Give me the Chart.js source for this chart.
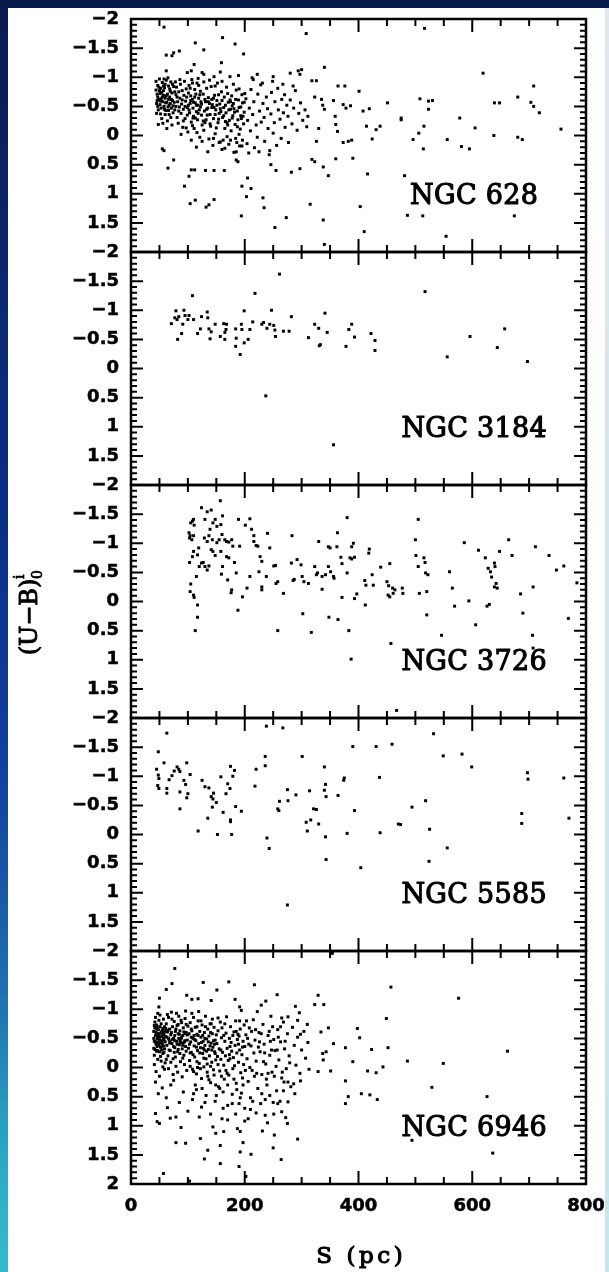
<!DOCTYPE html>
<html>
<head>
<meta charset="utf-8">
<script src="https://cdn.jsdelivr.net/npm/chart.js@4/dist/chart.umd.min.js"></script>
<style>
body { margin: 0; background: #fff; }
#page { position: relative; width: 609px; height: 1272px; background: #fff; overflow: hidden; }
#leftband { position: absolute; left: 0; top: 0; width: 8px; height: 1272px;
    background: linear-gradient(#0a1c50, #0b2e86 40%, #103f9c 60%, #1d70b0 78%, #2aa6c3 90%, #34bccb); }
#topband { position: absolute; left: 0; top: 0; width: 609px; height: 8px; background: #031a4b; }
#rightband { position: absolute; right: 0; top: 8px; width: 4px; height: 1264px;
    background: linear-gradient(#dfe7ef, #c4e7ee); }
canvas { position: absolute; left: 0; }
</style>
</head>
<body>
<div id="page">
  <div id="leftband"></div>
  <div id="topband"></div>
  <div id="rightband"></div>
</div>
<script>
var galaxies = ['NGC 628', 'NGC 3184', 'NGC 3726', 'NGC 5585', 'NGC 6946'];
var xTitle = 'S (pc)';

// S (pc), (U-B)0 pairs
var ngc628 = [
    [58,-1.86],[161,-1.68],[183,-1.57],[113,-1.59],[128,-1.47],[308,-1.75],[516,-1.84],
    [62,-1.38],[72,-1.37],[75,-1.42],[85,-1.45],[198,-1.40],[159,-1.25],[111,-1.22],
    [62,-1.11],[99,-1.08],[106,-1.11],[125,-1.08],[128,-1.05],[146,-1.01],[157,-1.09],[174,-1.01],[189,-1.03],[215,-0.96],[222,-1.05],[250,-1.01],[280,-1.07],[294,-1.11],[297,-1.05],[300,-1.13],
    [340,-1.17],[619,-1.07],[318,-0.94],[326,-0.94],[364,-0.85],[376,-0.85],[401,-0.76],[708,-0.85],
    [680,-0.66],[703,-0.57],[708,-0.50],[718,-0.39],[639,-0.56],[648,-0.56],
    [523,-0.59],[530,-0.60],[508,-0.63],[523,-0.45],[451,-0.56],[475,-0.27],[475,-0.30],[578,-0.30],
    [756,-0.11],[605,-0.13],[515,-0.16],[506,-0.04],[496,0.07],[556,0.07],[581,0.19],[595,0.23],[514,0.23],[638,0.00],[680,0.03],[688,0.07],
    [414,-0.16],[424,0.06],[431,-0.10],[438,-0.16],[408,-0.42],[419,-0.46],[373,-0.53],[378,-0.47],[386,-0.51],[373,0.12],[382,0.10],[388,0.08],
    [359,-0.33],[360,-0.19],[363,-0.07],[335,-0.62],[337,-0.52],[340,-0.45],[323,-0.66],[356,-0.60],[311,-0.33],[326,0.10],[330,-0.12],
    [390,0.39],[360,0.40],[416,0.66],[481,0.69],[338,0.54],[347,0.69],[318,0.41],[323,0.45],[297,0.57],[282,0.63],
    [403,1.22],[486,1.37],[513,1.38],[674,1.38],[410,1.65],[554,1.73],[338,1.45],[340,1.87],[273,1.41],[253,1.58],[194,1.38],[315,1.18],[232,1.07],[234,1.24],
    [195,0.87],[203,1.05],[211,0.91],[205,0.73],[104,1.17],[113,1.11],[132,1.23],[137,1.19],[146,1.10],[94,0.87],[102,0.70],[65,0.56],[106,0.59],[112,0.59],[131,0.60],[146,0.60],[164,0.60],[185,0.42],[188,0.45],[246,0.50],[255,0.60],[75,0.42],[55,0.23],[58,0.26],
    [44,-0.93],[46,-0.71],[45,-0.55],[47,-0.86],[49,-0.62],[48,-0.44],[44,-0.78],[50,-0.97],[51,-0.53],[52,-0.81],[47,-0.66],[53,-0.47],[45,-0.38],[54,-0.74],[55,-0.91],[49,-0.83],[56,-0.58],[57,-0.69],[52,-0.37],[58,-0.50],
    [46,-0.60],[59,-0.82],[60,-0.64],[51,-0.72],[61,-0.43],[62,-0.95],[54,-0.29],[63,-0.57],[57,-0.77],[64,-0.71],[65,-0.49],[60,-0.88],[66,-0.62],[67,-0.36],[59,-0.45],[68,-0.80],[69,-0.55],[62,-0.68],[70,-0.92],[71,-0.47],
    [64,-0.25],[72,-0.73],[66,-0.85],[73,-0.60],[74,-0.39],[68,-0.66],[75,-0.84],[70,-0.31],[56,-0.21],[63,-0.12],[48,-0.19],[72,-0.18],[53,-0.63],[61,-0.56],[67,-0.52],[58,-0.97],[65,-0.99],[50,-0.77],[55,-0.66],[69,-0.76],
    [74,-0.51],[47,-0.50],[71,-0.62],[60,-0.36],[66,-0.43],[57,-0.85],[52,-0.59],[73,-0.88],
    [76,-0.57],[78,-0.92],[77,-0.44],[79,-0.70],[81,-0.31],[80,-0.83],[82,-0.58],[84,-0.75],[83,-0.21],[85,-0.49],[87,-0.88],[86,-0.64],[88,-0.38],[90,-0.77],[89,-0.54],[91,-0.14],[93,-0.69],[92,-0.45],[94,-0.93],[96,-0.59],
    [95,-0.29],[97,-0.80],[99,-0.48],[98,-0.66],[100,-0.06],[101,-0.73],[103,-0.39],[102,-0.86],[104,-0.55],[106,-0.23],[105,-0.68],[107,-0.96],[109,-0.47],[108,-0.62],[110,-0.33],[112,-0.79],[111,-0.12],[113,-0.56],[115,-0.41],[114,-0.71],
    [116,-0.90],[118,-0.52],[117,-0.27],[119,-0.64],[121,0.03],[120,-0.44],[122,-0.76],[124,-0.35],[123,-0.58],[125,-0.18],[79,-0.50],[86,-0.96],[92,-0.25],[99,-0.35],[104,-0.81],[110,-0.57],[116,-0.05],[84,-0.42],[95,-0.50],[108,-0.17],
    [119,-0.86],[81,-0.66],[90,-0.61],[101,-0.52],[113,-0.30],[122,-0.49],[77,-0.75],[97,-0.13],[106,0.08],[88,-0.02],
    [127,-0.71],[129,-0.42],[128,-0.09],[131,-0.58],[133,-0.81],[132,-0.27],[135,-0.47],[137,0.06],[136,-0.65],[139,-0.36],[141,-0.84],[140,-0.16],[143,-0.53],[145,-0.29],[144,0.17],[147,-0.69],[149,-0.44],[148,-0.03],[151,-0.60],[153,-0.22],
    [152,-0.90],[155,-0.38],[157,0.11],[156,-0.54],[159,-0.75],[161,-0.31],[160,0.24],[163,-0.48],[165,-0.12],[164,-0.66],[167,-0.39],[169,0.02],[168,-0.83],[171,-0.57],[173,-0.26],[172,0.15],[175,-0.45],[177,-0.68],[176,-0.08],[179,-0.34],
    [181,0.29],[180,-0.55],[183,-0.19],[185,-0.78],[184,0.05],[187,-0.42],[189,-0.61],[188,-0.27],[191,0.18],[193,-0.49],[192,-0.11],[195,-0.70],[197,-0.33],[196,0.08],[199,-0.57],[198,-0.20],[134,-0.35],[142,-0.62],[150,-0.13],[158,-0.41],
    [166,-0.24],[174,-0.61],[182,-0.40],[190,-0.02],[138,-0.55],[154,-0.70],[170,-0.18],[186,0.12],[130,-0.22],[146,-0.48],[162,0.08],[178,-0.51],[194,-0.29],
    [202,-0.63],[205,-0.26],[204,0.14],[208,-0.47],[211,-0.79],[210,-0.08],[214,-0.36],[217,0.21],[216,-0.58],[220,-0.18],[223,-0.71],[222,0.03],[226,-0.42],[229,-0.23],[228,-0.87],[232,-0.55],[235,0.10],[234,-0.31],[238,-0.66],[241,-0.12],
    [240,-0.46],[244,0.26],[247,-0.74],[246,-0.37],[250,-0.04],[253,-0.58],[252,-0.22],[256,0.17],[259,-0.44],[258,-0.81],[262,-0.28],[265,-0.62],[264,0.05],[268,-0.39],[271,-0.14],[270,-0.70],[274,-0.52],[277,0.12],[276,-0.33],[280,-0.61],
    [283,-0.20],[286,-0.47],[289,-0.77],[292,-0.09],[295,-0.38],[298,-0.56],[302,-0.26],[306,-0.44],[309,-0.15],[213,-0.99],[231,-0.90],[249,-0.93],[267,-0.88],[285,-0.85],[207,0.30],[225,0.28],[243,0.33],
    [102,-0.44],[105,-0.60],[109,-0.30],[112,-0.66],[115,-0.52],[118,-0.38],[121,-0.70],[124,-0.54],[127,-0.25],[130,-0.62],[133,-0.45],[136,-0.58],[139,-0.20],[142,-0.48],[145,-0.64],[148,-0.36],[151,-0.52],[154,-0.28],[157,-0.46],[160,-0.60],
    [163,-0.34],[166,-0.52],[169,-0.22],[172,-0.44],[175,-0.58],[178,-0.30],[181,-0.46],[184,-0.62],[187,-0.15],[190,-0.48],[193,-0.34],[196,-0.56],[199,-0.40],[145,0.05],[155,0.12],[165,0.22],[175,0.08],[185,0.28],[195,0.18],[125,0.10],
    [115,0.20],[135,0.28],[108,-0.90],[118,-0.98],[128,-0.92],[138,-0.95],[148,-0.85],[160,-0.93],[170,-0.72],[180,-0.88],[190,-0.80],[200,-0.72]
];

var ngc3184 = [
    [71,-0.77],[79,-0.99],[77,-0.87],[84,-0.89],[81,-0.84],[93,-1.00],[95,-0.91],[100,-0.84],[91,-0.76],[102,-0.91],[82,-0.50],[89,-0.60],[108,-1.25],[110,-0.84],
    [124,-0.89],[134,-0.97],[135,-0.87],[122,-0.68],[117,-0.60],[137,-0.68],[141,-0.63],[139,-0.51],[148,-0.76],[157,-0.55],[165,-0.50],[163,-0.77],[168,-0.76],[167,-0.67],[165,-0.62],
    [184,-0.68],[185,-0.52],[184,-0.38],[192,-0.24],[194,-0.76],[195,-0.67],[199,-0.99],[199,-0.44],[206,-0.50],[209,-0.67],[214,-0.80],[218,-1.29],[230,-0.76],[233,-0.79],[239,-0.69],
    [244,-0.76],[247,-1.00],[251,-0.74],[253,-0.66],[254,-0.55],[261,-1.62],[268,-0.64],[278,-0.64],[282,-0.89],[237,0.47],[312,-0.53],[323,-0.76],[330,-0.69],[331,-0.39],[333,-0.41],
    [341,-0.95],[345,-0.62],[356,1.31],[378,-0.38],[383,-0.67],[388,-0.76],[393,-0.54],[422,-0.60],[429,-0.48],[429,-0.31],[517,-1.32],[556,-0.20],[596,-0.55],[644,-0.36],[657,-0.68],[697,-0.12]
];

var ngc3726 = [
    [102,-1.18],[103,-1.09],[104,-1.13],[107,-1.06],[110,-1.13],[105,-1.35],[108,-1.38],[111,-1.31],[110,-1.41],[103,-0.67],[105,-0.30],[104,-0.17],[110,-0.11],[111,-0.07],[117,0.06],[117,0.27],[113,0.50],[115,-0.43],
    [108,-0.77],[110,-0.86],[117,-0.80],[120,-0.60],[119,-0.92],[124,-1.61],[130,-1.41],[134,-1.54],[141,-1.57],[139,-1.24],[144,-1.35],[148,-1.41],[151,-1.29],[129,-1.09],[134,-1.03],[137,-1.13],[143,-1.06],[141,-0.89],[151,-1.01],[155,-1.06],
    [124,-0.66],[127,-0.67],[130,-0.60],[134,-0.54],[137,-0.61],[144,-0.86],[148,-0.79],[157,-1.73],[161,-1.47],[158,-1.32],[160,-1.15],[158,-0.86],[161,-0.60],[159,-0.47],
    [165,-1.06],[168,-1.03],[172,-1.02],[177,-1.06],[179,-0.95],[168,-0.77],[172,-0.75],[170,-0.37],[177,-0.20],[176,-0.15],[182,-0.67],[185,-0.49],[189,-1.41],[191,-0.95],[188,0.15],[196,-0.08],[201,-1.31],[204,-0.23],[209,-1.42],[209,-0.43],
    [212,-1.24],[216,-1.13],[216,-1.03],[220,-0.96],[223,-0.95],[225,-0.51],[227,-0.77],[230,-0.69],[230,-0.25],[230,-0.20],[238,-0.43],[240,-1.17],[244,-0.92],[251,-0.61],[254,-0.62],[255,-0.31],[258,-0.34],[258,0.50],[268,-0.14],[283,-1.13],
    [282,-0.66],[285,-0.36],[287,-0.38],[292,-0.72],[299,-0.63],[301,-0.43],[304,-0.34],[312,-0.31],[302,0.21],[317,0.53],[330,-1.03],[323,-0.60],[328,-0.49],[326,-0.46],[336,-0.43],[342,-0.46],[336,-0.21],
    [347,-0.94],[350,-0.92],[362,-0.94],[347,-0.60],[351,-0.51],[356,-0.43],[357,-0.40],[348,0.27],[363,-1.18],[364,0.31],[369,-0.76],[371,-0.65],[371,-0.07],[380,-1.44],[380,-0.49],[385,-0.75],[388,-0.73],[393,-0.76],[383,0.50],[387,0.99],[388,-0.94],[391,-1.00],[393,-0.05],[397,-0.13],
    [412,0.06],[411,-0.36],[413,-0.28],[418,-0.83],[419,-0.90],[424,-0.46],[426,-0.28],[439,-0.59],[450,-0.34],[453,-0.27],[452,-0.11],[455,-0.08],[455,-0.65],[457,0.72],[460,-0.23],[461,-0.14],[464,-0.20],[467,1.87],[477,-0.23],[478,-0.14],
    [500,-1.06],[501,-0.79],[505,-0.60],[507,-0.14],[505,-1.41],[515,-0.75],[517,-0.67],[518,-0.49],[522,-0.46],[520,-0.17],[520,0.23],[546,0.58],[560,-0.51],[565,-0.23],[569,0.08],[586,-1.01],[594,-0.01],[606,0.40],[611,-0.88],
    [623,-0.75],[628,-0.57],[632,-0.51],[634,-0.42],[639,-0.25],[642,-0.31],[639,-0.66],[640,-0.60],[626,0.08],[630,0.05],[644,-0.23],[648,-0.86],[664,-1.06],[670,-0.79],[685,-0.13],[689,0.20],
    [706,0.58],[707,0.80],[707,-0.25],[711,-0.94],[735,-0.79],[748,-0.54],[761,-0.61],[769,0.29],[784,-0.32]
];

var ngc5585 = [
    [48,-1.42],[45,-1.12],[48,-1.02],[49,-0.96],[47,-0.84],[49,-0.79],[58,-1.23],[63,-1.74],[63,-0.79],[63,-0.71],[67,-0.94],[72,-1.01],[76,-1.09],[81,-1.16],[84,-1.12],[86,-1.08],[86,-0.73],[86,-0.44],
    [93,-0.93],[96,-0.86],[98,-1.23],[100,-0.70],[98,-0.63],[104,-1.03],[118,-0.06],[125,-0.93],[130,-0.82],[137,-0.80],[141,-0.65],[145,-0.71],[144,-0.61],[135,-0.28],[143,-0.47],[150,-0.55],[152,0.00],
    [158,-0.99],[162,-0.38],[167,-0.70],[170,-0.87],[174,-0.79],[175,-1.17],[182,-1.10],[175,-0.25],[175,-0.22],[177,0.00],[179,-1.00],[184,-0.48],[194,-0.40],[218,-0.83],[220,-1.12],[236,-1.18],[236,-1.34],[238,-1.86],
    [239,0.06],[243,0.24],[258,-0.44],[260,-0.41],[261,-0.57],[267,-1.83],[275,-0.77],[276,-0.58],[275,1.21],[290,-0.68],[301,-1.34],[308,-0.21],[310,-0.06],[314,-0.75],[316,-0.25],[321,-0.44],[326,-0.43],[330,-0.18],
    [340,-1.16],[340,-0.76],[342,-0.86],[343,-0.65],[342,0.04],[343,0.43],[364,-0.67],[374,-0.93],[375,-0.97],[380,-0.02],[390,-1.51],[393,-0.41],[404,0.57],[431,-1.51],[437,-0.98],[438,-0.03],[459,-1.55],
    [470,-0.18],[474,-0.17],[494,-0.47],[518,-0.58],[525,-0.09],[524,0.46],[532,-1.73],[549,-1.35],[556,0.23],[582,-1.38],[599,-1.16],[687,-0.36],[687,-0.19],[697,-1.06],[698,-0.95],[761,-0.97],[770,-0.28]
];

var ngc6946 = [
    [77,-1.70],[72,-1.44],[62,-1.34],[50,-1.19],[49,-1.04],[127,-1.46],[151,-1.33],[172,-1.47],[217,-1.42],[257,-1.25],[329,-1.24],[457,-1.38],[576,-1.19],[98,-1.24],[107,-1.17],[118,-1.18],[141,-1.15],[183,-1.17],
    [191,-1.04],[194,-0.98],[237,-1.14],[229,-1.07],[289,-1.05],[296,-0.94],[323,-1.08],[339,-1.08],[293,-0.81],[265,-0.85],[276,-0.87],[310,-0.74],[298,-0.57],[334,-0.61],[347,-0.68],[337,-0.24],[343,-0.27],[338,-0.13],
    [356,-0.41],[377,-0.34],[390,-0.10],[398,-0.67],[402,-0.51],[423,-0.31],[449,-0.84],[452,-0.34],[443,-0.01],[416,0.06],[431,0.09],[329,0.07],[351,0.06],[313,0.03],[377,0.23],[377,0.62],[382,0.50],[405,0.45],[420,0.47],[433,0.55],
    [486,-0.11],[549,-0.07],[529,0.34],[662,-0.28],[626,0.50],[494,1.25],[636,1.47],[288,0.45],[298,0.23],[293,1.23],[276,0.59],[275,0.96],[265,0.76],[250,1.38],[264,1.58],[252,1.16],[231,1.09],[211,1.49],[192,1.45],[190,1.70],
    [197,1.29],[202,1.87],[157,1.65],[157,1.34],[163,1.10],[135,1.42],[129,1.57],[122,1.22],[96,1.30],[79,1.29],[103,1.95],[57,1.82],[88,1.03],[69,0.87],[79,0.85],[43,0.79],[46,0.93],[50,0.96],[48,0.45],[64,0.69],
    [187,1.05],[192,1.10],[144,1.02],[149,1.13],[354,-1.96],
    [55,0.35],[62,0.52],[70,0.30],[85,0.60],[92,0.42],[100,0.75],[108,0.55],[115,0.38],[124,0.68],[132,0.48],[140,0.80],[148,0.58],[156,0.36],[162,0.70],[170,0.90],[178,0.62],[184,0.80],[192,0.52],[200,0.70],
    [206,0.88],[214,0.58],[220,0.78],[228,0.62],[236,0.82],[244,0.48],[251,0.80],[258,0.62],[268,0.40],[272,0.86],
    [40,-0.62],[41,-0.45],[40,-0.33],[42,-0.78],[41,-0.21],[43,-0.55],[42,-0.68],[44,-0.40],[43,-0.86],[45,-0.28],[44,-0.60],[46,-0.49],[45,-0.73],[47,-0.14],[46,-0.36],[48,-0.65],[47,-0.52],[49,-0.81],[48,-0.43],[50,-0.27],
    [49,-0.58],[51,-0.70],[50,-0.48],[52,-0.35],[51,-0.90],[53,-0.61],[52,-0.19],[54,-0.46],[53,-0.75],[55,-0.54],[54,-0.30],[56,-0.67],[55,-0.41],[57,-0.83],[56,-0.24],[58,-0.57],[57,-0.37],[59,-0.70],[58,-0.47],[60,-0.62],
    [59,-0.32],[60,-0.08],[41,-0.05],[44,0.07],[40,-0.50],[43,-0.44],[46,-0.58],[49,-0.39],[52,-0.53],[55,-0.64],[58,-0.26],[42,-0.31],[45,-0.66],[48,-0.54],[51,-0.42],[54,-0.59],[57,-0.50],[60,-0.44],[47,-0.93],[53,-0.11],
    [56,-0.01],[50,0.15],[59,0.03],[41,-0.72],[47,-0.29],[53,-0.35],[43,0.25],
    [61,-0.53],[62,-0.75],[63,-0.38],[64,-0.61],[65,-0.20],[66,-0.86],[67,-0.47],[68,-0.66],[69,-0.29],[70,-0.56],[71,-0.95],[72,-0.41],[73,-0.70],[74,-0.15],[75,-0.50],[76,-0.79],[77,-0.34],[78,-0.62],[79,-0.02],[80,-0.45],
    [81,-0.72],[82,-0.27],[83,-0.58],[84,-0.88],[85,-0.39],[86,-0.63],[87,-0.10],[88,-0.49],[89,-0.77],[90,-0.32],[91,-0.55],[92,-0.68],[93,-0.21],[94,-0.44],[95,-0.84],[96,-0.36],[97,-0.60],[98,0.05],[99,-0.47],[100,-0.71],
    [63,-0.52],[65,-0.64],[67,-0.30],[69,-0.44],[71,-0.60],[73,-0.48],[75,-0.36],[77,-0.55],[79,-0.66],[81,-0.40],[83,-0.31],[85,-0.57],[87,-0.43],[89,-0.52],[91,-0.38],[93,-0.61],[95,-0.46],[97,-0.28],[99,-0.56],[62,-0.14],
    [66,0.02],[70,-0.09],[74,0.12],[78,-0.18],[82,0.08],[86,-0.24],[90,0.16],[94,-0.05],[64,-0.91],[72,-0.83],[80,-0.93],[88,-0.81],[96,-0.97],[68,-0.42],[76,-0.26],[84,-0.50],[92,-0.42],[61,-0.67],[83,-0.74],[97,-0.74],
    [75,0.22],[91,-0.16],
    [101,-0.33],[102,-0.58],[103,-0.12],[104,-0.77],[105,-0.44],[106,-0.26],[107,-0.63],[108,0.03],[109,-0.50],[110,-0.86],[111,-0.37],[112,-0.18],[113,-0.69],[114,-0.46],[115,0.11],[116,-0.57],[117,-0.29],[118,-0.80],[119,-0.41],[120,-0.07],
    [121,-0.62],[122,-0.34],[123,-0.52],[124,0.19],[125,-0.73],[126,-0.24],[127,-0.45],[128,-0.01],[129,-0.60],[130,-0.38],[131,-0.88],[132,-0.15],[133,-0.49],[134,0.08],[135,-0.66],[136,-0.31],[137,-0.54],[138,-0.20],[139,-0.75],[140,0.26],
    [141,-0.42],[142,-0.09],[143,-0.58],[144,-0.35],[145,0.04],[146,-0.69],[147,-0.27],[148,-0.47],[149,-0.13],[150,-0.56],
    [103,-0.40],[106,-0.52],[109,-0.22],[112,-0.48],[115,-0.35],[118,-0.55],[121,-0.25],[124,-0.43],[127,-0.33],[130,-0.50],[133,-0.28],[136,-0.44],[139,-0.37],[142,-0.30],[145,-0.46],[148,-0.24],[104,-0.02],[110,0.07],[116,-0.10],[122,0.02],
    [128,-0.16],[134,-0.06],[140,-0.02],[146,0.13],[107,-0.93],[119,-0.96],[131,-0.70],[143,-0.83],[113,0.30],[125,0.36],[137,0.21],[149,0.30],
    [151,-0.41],[153,-0.63],[152,-0.19],[155,-0.32],[157,-0.78],[156,0.06],[159,-0.51],[161,-0.26],[160,-0.68],[163,-0.04],[165,-0.45],[164,0.20],[167,-0.59],[169,-0.33],[168,-0.87],[171,-0.12],[173,-0.50],[172,0.13],[175,-0.70],[177,-0.28],
    [176,-0.43],[179,0.02],[181,-0.61],[180,-0.17],[183,-0.38],[185,0.27],[184,-0.80],[187,-0.48],[189,-0.09],[188,-0.57],[191,-0.30],[193,0.09],[192,-0.66],[195,-0.22],[197,-0.45],[196,0.18],[199,-0.73],[198,-0.05],[154,0.33],[162,0.42],
    [170,0.30],[178,0.46],[186,0.38],[194,0.44],[158,-0.14],[166,-0.20],[174,-0.36],[182,-0.03],[190,-0.54],[200,-0.36],
    [202,-0.56],[204,-0.15],[206,0.24],[208,-0.68],[211,-0.37],[213,0.05],[215,-0.82],[218,-0.47],[220,-0.11],[223,0.36],[225,-0.60],[227,-0.27],[230,0.12],[232,-0.74],[234,-0.40],[237,-0.06],[239,0.30],[241,-0.55],[244,-0.21],[246,-0.88],
    [248,0.08],[251,-0.48],[253,-0.29],[256,0.40],[258,-0.65],[260,-0.13],[263,-0.44],[265,0.18],[268,-0.78],[270,-0.32],[273,0.02],[275,-0.58],[278,-0.20],[281,0.33],[284,-0.69],[287,-0.38],[290,-0.04],[293,-0.52],[297,0.10],[300,-0.30],
    [304,-0.62],[307,-0.16],[311,-0.43],[210,0.52],[222,-0.96],[236,0.55],[249,-0.70],[262,0.58],[276,0.25],
    [153,-0.05],[159,0.15],[167,0.05],[173,-0.22],[181,0.20],[189,-0.40],[197,0.30],[205,-0.50],[209,0.00],[216,-0.25],[221,0.10],[226,-0.44],[233,-0.10],[238,0.20],[243,-0.62],[247,-0.30],[255,-0.02],[259,-0.52],[266,0.08],[271,-0.45],
    [279,-0.08],[286,0.28],[165,-0.75],[185,-0.62],[203,-0.80],[219,-0.65],[140,-0.60],[126,-0.55],[116,-0.70],[106,-0.66],[95,-0.58],[86,-0.45],[77,-0.46],[66,-0.50],[57,-0.60],[46,-0.70],
    [104,-0.25],[111,-0.55],[117,0.00],[123,-0.80],[129,-0.30],[135,0.15],[141,-0.75],[147,-0.40],[153,-0.85],[158,-0.30],[163,-0.55],[169,0.10],[174,-0.15],[179,-0.55],[186,-0.25],[191,-0.80],[196,-0.35],[201,0.05],[207,-0.40],[212,-0.62],
    [217,0.15],[224,-0.35],[229,-0.58],[235,-0.25],[241,0.10],[245,-0.45],[252,0.15],[257,-0.30],[263,-0.70],[269,0.25],[110,0.45],[130,0.60],[150,0.48],[170,0.65],[190,0.62],[210,0.72],[230,0.45],[250,0.60],[120,0.85],[160,0.88],
    [200,0.92],[240,0.95]
];

var panelData = [ngc628, ngc3184, ngc3726, ngc5585, ngc6946];

// axis values
var xTickLabels = [0, 200, 400, 600, 800];
var yTickLabels = [-2, -1.5, -1, -0.5, 0, 0.5, 1, 1.5, 2];
var xTickMarks = [50, 100, 150, 200, 250, 300, 350, 400, 450, 500, 550, 600, 650, 700, 750];
var xLongTicks = [200, 400, 600];
var yTickMarks = [-1.9, -1.8, -1.7, -1.6, -1.5, -1.4, -1.3, -1.2, -1.1, -1, -0.9, -0.8, -0.7, -0.6, -0.5, -0.4, -0.3, -0.2, -0.1, 0,
    0.1, 0.2, 0.3, 0.4, 0.5, 0.6, 0.7, 0.8, 0.9, 1, 1.1, 1.2, 1.3, 1.4, 1.5, 1.6, 1.7, 1.8, 1.9];
var yLongTicks = [-1.5, -1, -0.5, 0, 0.5, 1, 1.5];

// layout in page pixels
var panelTops = [19, 252, 485, 718, 951];
var panelHeight = 233;
var pageHeight = 1272;

var tickFont = { family: '"DejaVu Sans"', size: 18, weight: 'bold' };
var labelFamily = '"DejaVu Serif"';

function penText(ctx, text, x, y, spacing, weight) {
    // fill plus a thin outline, close to the plotter pen strokes
    ctx.letterSpacing = spacing + 'px';
    ctx.lineWidth = weight;
    ctx.fillText(text, x + spacing / 2, y);
    ctx.strokeText(text, x + spacing / 2, y);
    ctx.letterSpacing = '0px';
}

var panelDecor = {
    id: 'panelDecor',
    afterDraw: function (chart, args, opts) {
        var ctx = chart.ctx;
        var area = chart.chartArea;
        var xs = chart.scales.x;
        var ys = chart.scales.y;
        ctx.save();
        ctx.strokeStyle = '#000';
        ctx.fillStyle = '#000';

        // inward ticks on all four sides
        ctx.lineWidth = 2;
        ctx.beginPath();
        xTickMarks.forEach(function (v) {
            var px = xs.getPixelForValue(v);
            var len = xLongTicks.indexOf(v) >= 0 ? 13 : 7;
            ctx.moveTo(px, area.top);
            ctx.lineTo(px, area.top + len);
            ctx.moveTo(px, area.bottom);
            ctx.lineTo(px, area.bottom - len);
        });
        yTickMarks.forEach(function (v) {
            var py = ys.getPixelForValue(v);
            var len = yLongTicks.indexOf(v) >= 0 ? 12 : 6;
            ctx.moveTo(area.left, py);
            ctx.lineTo(area.left + len, py);
            ctx.moveTo(area.right, py);
            ctx.lineTo(area.right - len, py);
        });
        ctx.stroke();

        // frame
        ctx.lineWidth = 2.5;
        ctx.strokeRect(area.left, area.top, area.right - area.left, area.bottom - area.top);

        // galaxy name
        ctx.font = '27px ' + labelFamily;
        ctx.textAlign = 'center';
        ctx.textBaseline = 'alphabetic';
        penText(ctx, opts.name, area.right - 112, area.top + 185, 0.3, 1.1);

        // x axis title under the last panel
        if (opts.xTitle) {
            ctx.font = '23px ' + labelFamily;
            penText(ctx, xTitle, (area.left + area.right) / 2 + 1, area.bottom + 79, 3.6, 1.1);
        }

        // y axis title, only on the middle panel
        if (opts.yTitle) {
            ctx.save();
            ctx.translate(31, 617 - opts.canvasTop);
            ctx.rotate(-Math.PI / 2);
            ctx.font = '24px ' + labelFamily;
            ctx.textAlign = 'center';
            ctx.textBaseline = 'middle';
            penText(ctx, '(U\u2212B)', 0, 0, 0, 1.0);
            ctx.font = '14px ' + labelFamily;
            ctx.textAlign = 'left';
            penText(ctx, 'i', 38, -11, 0, 0.7);
            penText(ctx, '0', 38, 7, 0, 0.7);
            ctx.restore();
        }
        ctx.restore();
    }
};

function makePanel(i) {
    var last = i === panelData.length - 1;
    var canvasTop = panelTops[i] - 12;
    var height = last ? pageHeight - canvasTop : panelHeight + 24;
    var canvas = document.createElement('canvas');
    canvas.width = 609;
    canvas.height = height;
    canvas.style.top = canvasTop + 'px';
    canvas.style.width = '609px';
    canvas.style.height = height + 'px';
    document.getElementById('page').appendChild(canvas);

    var points = panelData[i].map(function (p) {
        return { x: p[0], y: p[1] };
    });

    return new Chart(canvas.getContext('2d'), {
        type: 'scatter',
        data: {
            datasets: [{
                label: galaxies[i],
                data: points,
                pointStyle: 'rect',
                pointRadius: 2.1,
                pointBackgroundColor: '#000',
                pointBorderWidth: 0
            }]
        },
        options: {
            responsive: false,
            animation: false,
            devicePixelRatio: 1,
            events: [],
            layout: { padding: { top: 12, right: 23, bottom: 0, left: 0 } },
            plugins: {
                legend: { display: false },
                tooltip: { enabled: false },
                panelDecor: { name: galaxies[i], yTitle: i === 2, xTitle: last, canvasTop: canvasTop }
            },
            scales: {
                x: {
                    type: 'linear',
                    min: xTickLabels[0],
                    max: xTickLabels[xTickLabels.length - 1],
                    grid: { display: false, drawTicks: false },
                    border: { display: false },
                    ticks: {
                        display: last,
                        stepSize: 200,
                        autoSkip: false,
                        maxRotation: 0,
                        padding: 12,
                        color: '#000',
                        textStrokeColor: '#000',
                        textStrokeWidth: 0.5,
                        font: tickFont
                    },
                    afterFit: function (scale) {
                        scale.height = last ? 88 : 12;
                        scale.paddingLeft = 0;
                        scale.paddingRight = 0;
                    }
                },
                y: {
                    type: 'linear',
                    reverse: true,
                    min: yTickLabels[0],
                    max: yTickLabels[yTickLabels.length - 1],
                    grid: { display: false, drawTicks: false },
                    border: { display: false },
                    ticks: {
                        stepSize: 0.5,
                        autoSkip: false,
                        padding: 12,
                        color: '#000',
                        textStrokeColor: '#000',
                        textStrokeWidth: 0.5,
                        font: tickFont,
                        callback: function (v) {
                            if (!last && v === 2) return '';
                            return (v < 0 ? '\u2212' : '') + Math.abs(v);
                        }
                    },
                    afterFit: function (scale) {
                        scale.width = 131;
                        scale.paddingTop = 0;
                        scale.paddingBottom = 0;
                    }
                }
            }
        },
        plugins: [panelDecor]
    });
}

for (var i = 0; i < panelData.length; i++) {
    makePanel(i);
}
</script>
</body>
</html>
